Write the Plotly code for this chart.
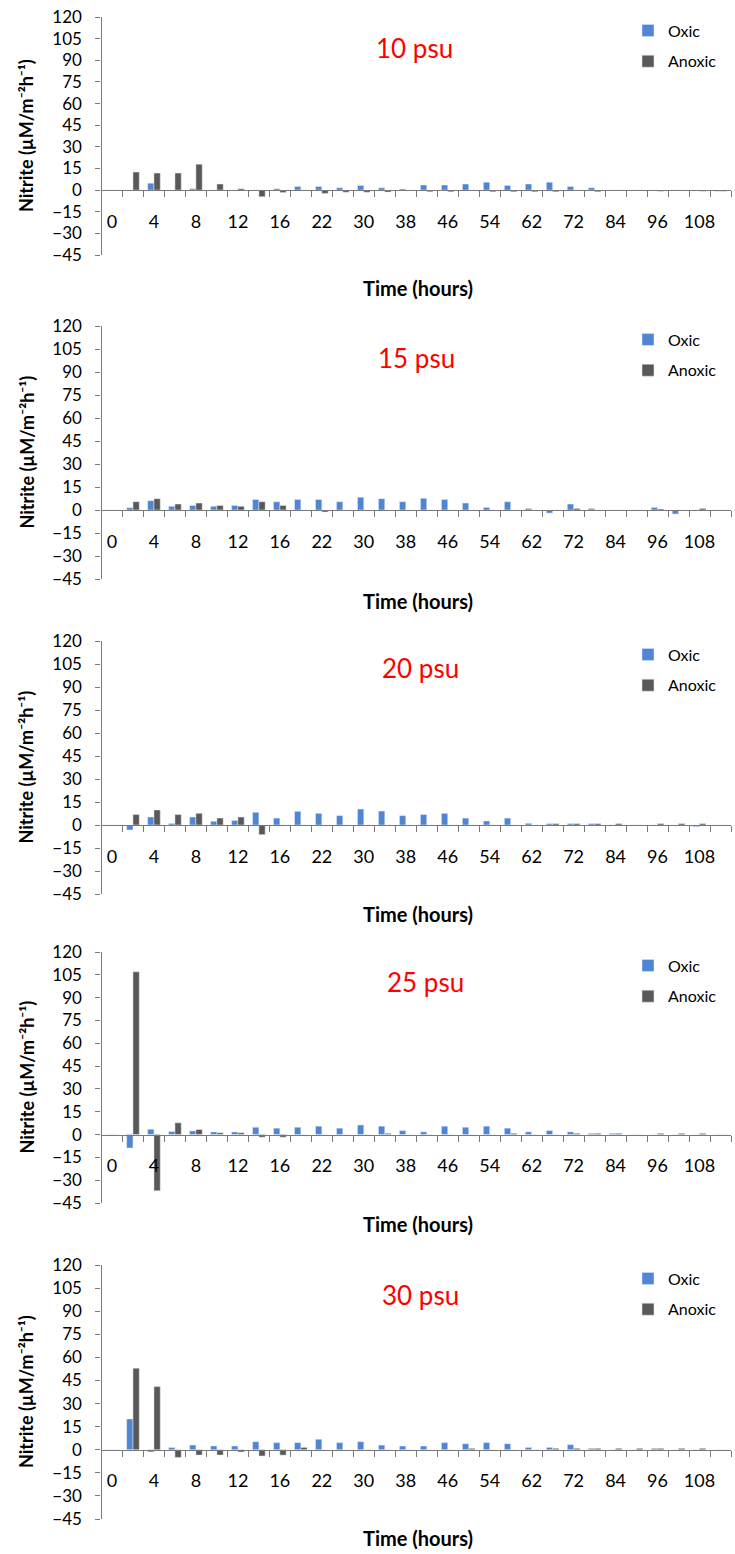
import plotly.graph_objects as go

W, H = 735, 1554

hours = [0, 2, 4, 6, 8, 10, 12, 14, 16, 18, 22, 26, 30, 34, 38, 42, 46, 50, 54, 58,
         62, 66, 72, 78, 84, 90, 96, 102, 108, 114]

salinity_labels = ["10 psu", "15 psu", "20 psu", "25 psu", "30 psu"]

oxic10 = [0, 0, 4.8, 0, 0.9, 0, 0, 0, 0.9, 2.5, 2.5, 1.6, 3.2, 1.6, 0.8, 3.5, 3.5, 4.2, 5.5, 3.2,
          4.2, 5.5, 2.5, 1.6, 0, 0, 0, 0, 0, -0.8]
anoxic10 = [0, 12.5, 11.8, 11.8, 18, 4.2, 0.9, -4.6, -1.6, 0, -2.3, -1.5, -1.5, -1.4, 0, -1.2, -1.2, 0, -1.2, -1.2,
            -1.2, -1.2, 0, -1.2, 0, 0, -0.8, 0, -0.8, -0.8]

oxic15 = [0, 1.5, 6.1, 2.4, 3.0, 2.4, 3.0, 6.8, 5.4, 6.8, 6.8, 5.4, 8.3, 7.4, 5.4, 7.6, 6.8, 4.5, 1.7, 5.4,
          0.9, -2.0, 3.9, 0.9, 0, 0, 1.7, -2.6, 0, 0]
anoxic15 = [0, 5.4, 7.4, 3.9, 4.5, 3.0, 2.4, 5.4, 3.0, 0, -1.3, 0, 0, 0, 0, 0, 0, 0, 0, 0,
            0, 0, 0.9, 0, 0, 0, 0.7, 0, 0.9, 0]

oxic20 = [0, -3.3, 5.2, 0.9, 5.2, 2.4, 3.0, 8.3, 4.5, 8.9, 7.6, 6.1, 10.4, 9.1, 6.1, 6.8, 7.6, 4.5, 2.6, 4.5,
          1.1, 0.9, 0.9, 0.9, 0, 0, 0, 0, -1.1, 0]
anoxic20 = [0, 6.8, 9.8, 6.8, 7.6, 4.5, 5.2, -6.3, 0, 0, 0, 0, 0, 0, 0, 0, 0, 0, 0, 0,
            0, 0.9, 0.9, 0.9, 0.9, 0, 0.9, 0.9, 0.9, 0]

oxic25 = [0, -8.8, 3.5, 2.0, 2.4, 1.75, 1.75, 4.8, 4.2, 4.8, 5.5, 4.2, 6.3, 5.5, 2.6, 1.75, 5.5, 4.8, 5.5, 4.2,
          1.75, 2.6, 1.75, 0.8, 0.8, 0, 0, 0, 0, 0]
anoxic25 = [0, 107, -37, 7.7, 3.3, 1.1, 1.1, -1.75, -1.75, 0, 0, 0, 0, 0.8, 0, 0, 0, 0, 0, 0.8,
            0, 0, 0.8, 0.8, 0.8, 0, 0.8, 0.8, 0.8, 0]

oxic30 = [0, 20, -1.5, 1.5, 3.0, 2.4, 2.4, 5.2, 4.6, 4.6, 6.8, 4.6, 5.2, 3.0, 2.4, 2.4, 4.6, 3.9, 4.6, 3.9,
          1.5, 1.5, 3.3, 0.9, 0, 0, 0.9, 0, 0, 0]
anoxic30 = [0, 53, 41, -5, -3.5, -3.5, -1.5, -4.1, -3.5, 1.5, 0, 0, 0, 0, 0, 0, 0, 0.9, 0, 0,
            0, 0.9, 0.9, 0.9, 0.9, 0.9, 0.9, 0.9, 0.9, 0]

oxic_series = [oxic10, oxic15, oxic20, oxic25, oxic30]
anoxic_series = [anoxic10, anoxic15, anoxic20, anoxic25, anoxic30]

y_ticks = [-45, -30, -15, 0, 15, 30, 45, 60, 75, 90, 105, 120]
Y_MIN, Y_MAX = -45, 120

# layout in pixels
tops = [17, 326, 641, 952, 1265]
bottoms = [255, 579, 894, 1203, 1519]
xtitle_y = [288, 601, 914, 1224, 1538]
psu_y = [48, 358, 668, 982, 1295]
psu_x = [415, 416, 421, 425, 420]
X0, X1 = 101.5, 731

BLUE = "#4F85D2"
GREY = "#595959"
AXIS = "#7a7a7a"
FONT = "Lato"

fig = go.Figure()
pos = list(range(len(hours)))


def py(p):
    return 1 - p / H


annotations = []
for i in range(5):
    n = i + 1
    xa = "x" if n == 1 else f"x{n}"
    ya = "y" if n == 1 else f"y{n}"
    lg = "legend" if n == 1 else f"legend{n}"
    fig.add_trace(go.Bar(x=pos, y=oxic_series[i], name="Oxic", marker_color=BLUE,
                         xaxis=xa, yaxis=ya, legend=lg, legendgroup=f"o{n}"))
    fig.add_trace(go.Bar(x=pos, y=anoxic_series[i], name="Anoxic", marker_color=GREY,
                         xaxis=xa, yaxis=ya, legend=lg, legendgroup=f"a{n}"))

    d0, d1 = py(bottoms[i]), py(tops[i])
    zero = d0 + (0 - Y_MIN) / (Y_MAX - Y_MIN) * (d1 - d0)
    xkey = "xaxis" if n == 1 else f"xaxis{n}"
    ykey = "yaxis" if n == 1 else f"yaxis{n}"
    fig.update_layout(**{
        xkey: dict(domain=[X0 / W, X1 / W], anchor="free", position=zero, automargin=False,
                   range=[-0.5, len(hours) - 0.5], showline=True, linecolor=AXIS, linewidth=1.3,
                   tickmode="array", tickvals=pos[::2], ticktext=[str(h) for h in hours[::2]],
                   ticks="outside", ticklen=15, tickcolor="rgba(0,0,0,0)",
                   tickfont=dict(family=FONT, size=18, color="#000"),
                   minor=dict(tickmode="array", tickvals=[p - 0.5 for p in pos] + [pos[-1] + 0.5],
                              ticks="outside", ticklen=6, tickcolor=AXIS, tickwidth=1.3),
                   showgrid=False, zeroline=False, fixedrange=True),
        ykey: dict(domain=[d0, d1], anchor=xa, range=[Y_MIN, Y_MAX], automargin=False,
                   tickmode="array", tickvals=y_ticks,
                   showline=True, linecolor=AXIS, linewidth=1.3,
                   ticks="outside", ticklen=5, tickcolor=AXIS, tickwidth=1.3,
                   ticklabelstandoff=10,
                   tickfont=dict(family=FONT, size=17, color="#000"),
                   showgrid=False, zeroline=False),
        lg: dict(x=628 / W, xanchor="left", y=py(tops[i] + 29), yanchor="middle",
                 font=dict(family=FONT, size=16, color="#000"), bgcolor="rgba(0,0,0,0)",
                 tracegroupgap=7, itemwidth=30),
    })
    annotations.append(dict(text="<b>Nitrite (µM/m⁻²h⁻¹)</b>", textangle=-90,
                            x=26 / W, y=py((tops[i] + bottoms[i]) / 2), xref="paper", yref="paper",
                            xanchor="center", yanchor="middle",
                            showarrow=False, font=dict(family=FONT, size=18, color="#000")))
    annotations.append(dict(text="<b>Time (hours)</b>", x=418 / W, y=py(xtitle_y[i]),
                            xref="paper", yref="paper", xanchor="center", yanchor="middle",
                            showarrow=False,
                            font=dict(family=FONT, size=20, color="#000")))
    annotations.append(dict(text=salinity_labels[i], x=psu_x[i] / W, y=py(psu_y[i]),
                            xref="paper", yref="paper", xanchor="center", yanchor="middle",
                            showarrow=False,
                            font=dict(family=FONT, size=26, color="#FF0000")))

fig.update_layout(width=W, height=H, margin=dict(l=0, r=0, t=0, b=0, autoexpand=False),
                  paper_bgcolor="white", plot_bgcolor="white",
                  barmode="group", bargap=0.4, bargroupgap=0,
                  annotations=annotations, showlegend=True)

fig.write_html("out.html")
